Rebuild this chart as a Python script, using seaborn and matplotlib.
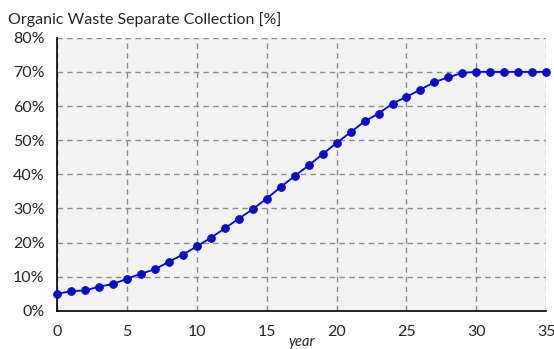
import pandas as pd
import seaborn as sns
import matplotlib.pyplot as plt
from matplotlib.ticker import PercentFormatter, MultipleLocator

# Data
years = list(range(0, 36))
share = [5.0, 5.8, 6.0, 7.1, 7.9, 9.4, 10.9, 12.2, 14.4, 16.5,
         18.9, 21.4, 24.2, 27.0, 29.8, 32.9, 36.3, 39.5, 42.6, 45.9,
         49.2, 52.3, 55.5, 57.8, 60.7, 62.7, 64.8, 67.0, 68.4, 69.7,
         70.0, 70.0, 70.0, 70.0, 70.0, 70.0]

df = pd.DataFrame({'year': years, 'share': share})

sns.set_style("white")
plt.rcParams['font.family'] = ['Lato', 'DejaVu Sans']

fig = plt.figure(figsize=(5.54, 3.49), dpi=100)
ax = fig.add_axes([0.103, 0.109, 0.883, 0.783])
ax.set_facecolor('#f2f2f2')

sns.lineplot(x='year', y='share', data=df, ax=ax, color='#0000ff', linewidth=1.3,
             marker='o', markersize=5.5, markerfacecolor='#0a0ac8', markeredgecolor='#0a0ac8',
             clip_on=False, zorder=3)

ax.set_xlim(0, 35)
ax.set_ylim(0, 80)
ax.xaxis.set_major_locator(MultipleLocator(5))
ax.yaxis.set_major_locator(MultipleLocator(10))
ax.yaxis.set_major_formatter(PercentFormatter(100, decimals=0))

ax.grid(True, color='#8c8c8c', linestyle=(0, (4, 3)), linewidth=1)
for side in ['top', 'right']:
    ax.spines[side].set_visible(False)
for side in ['left', 'bottom']:
    ax.spines[side].set_color('black')
    ax.spines[side].set_linewidth(1.2)

ax.tick_params(axis='x', direction='inout', length=8, width=1, labelsize=11.5, pad=6, color='black')
ax.tick_params(axis='y', direction='out', length=5, width=1, labelsize=11.5, pad=4, color='black')

ax.set_xlabel('')
ax.set_ylabel('')
fig.text(0.545, 0.01, 'year', fontstyle='italic', fontsize=10.5, ha='center')
fig.text(0.014, 0.93, 'Organic Waste Separate Collection [%]', fontsize=11.5, ha='left')

plt.savefig('out.png', dpi=100)
